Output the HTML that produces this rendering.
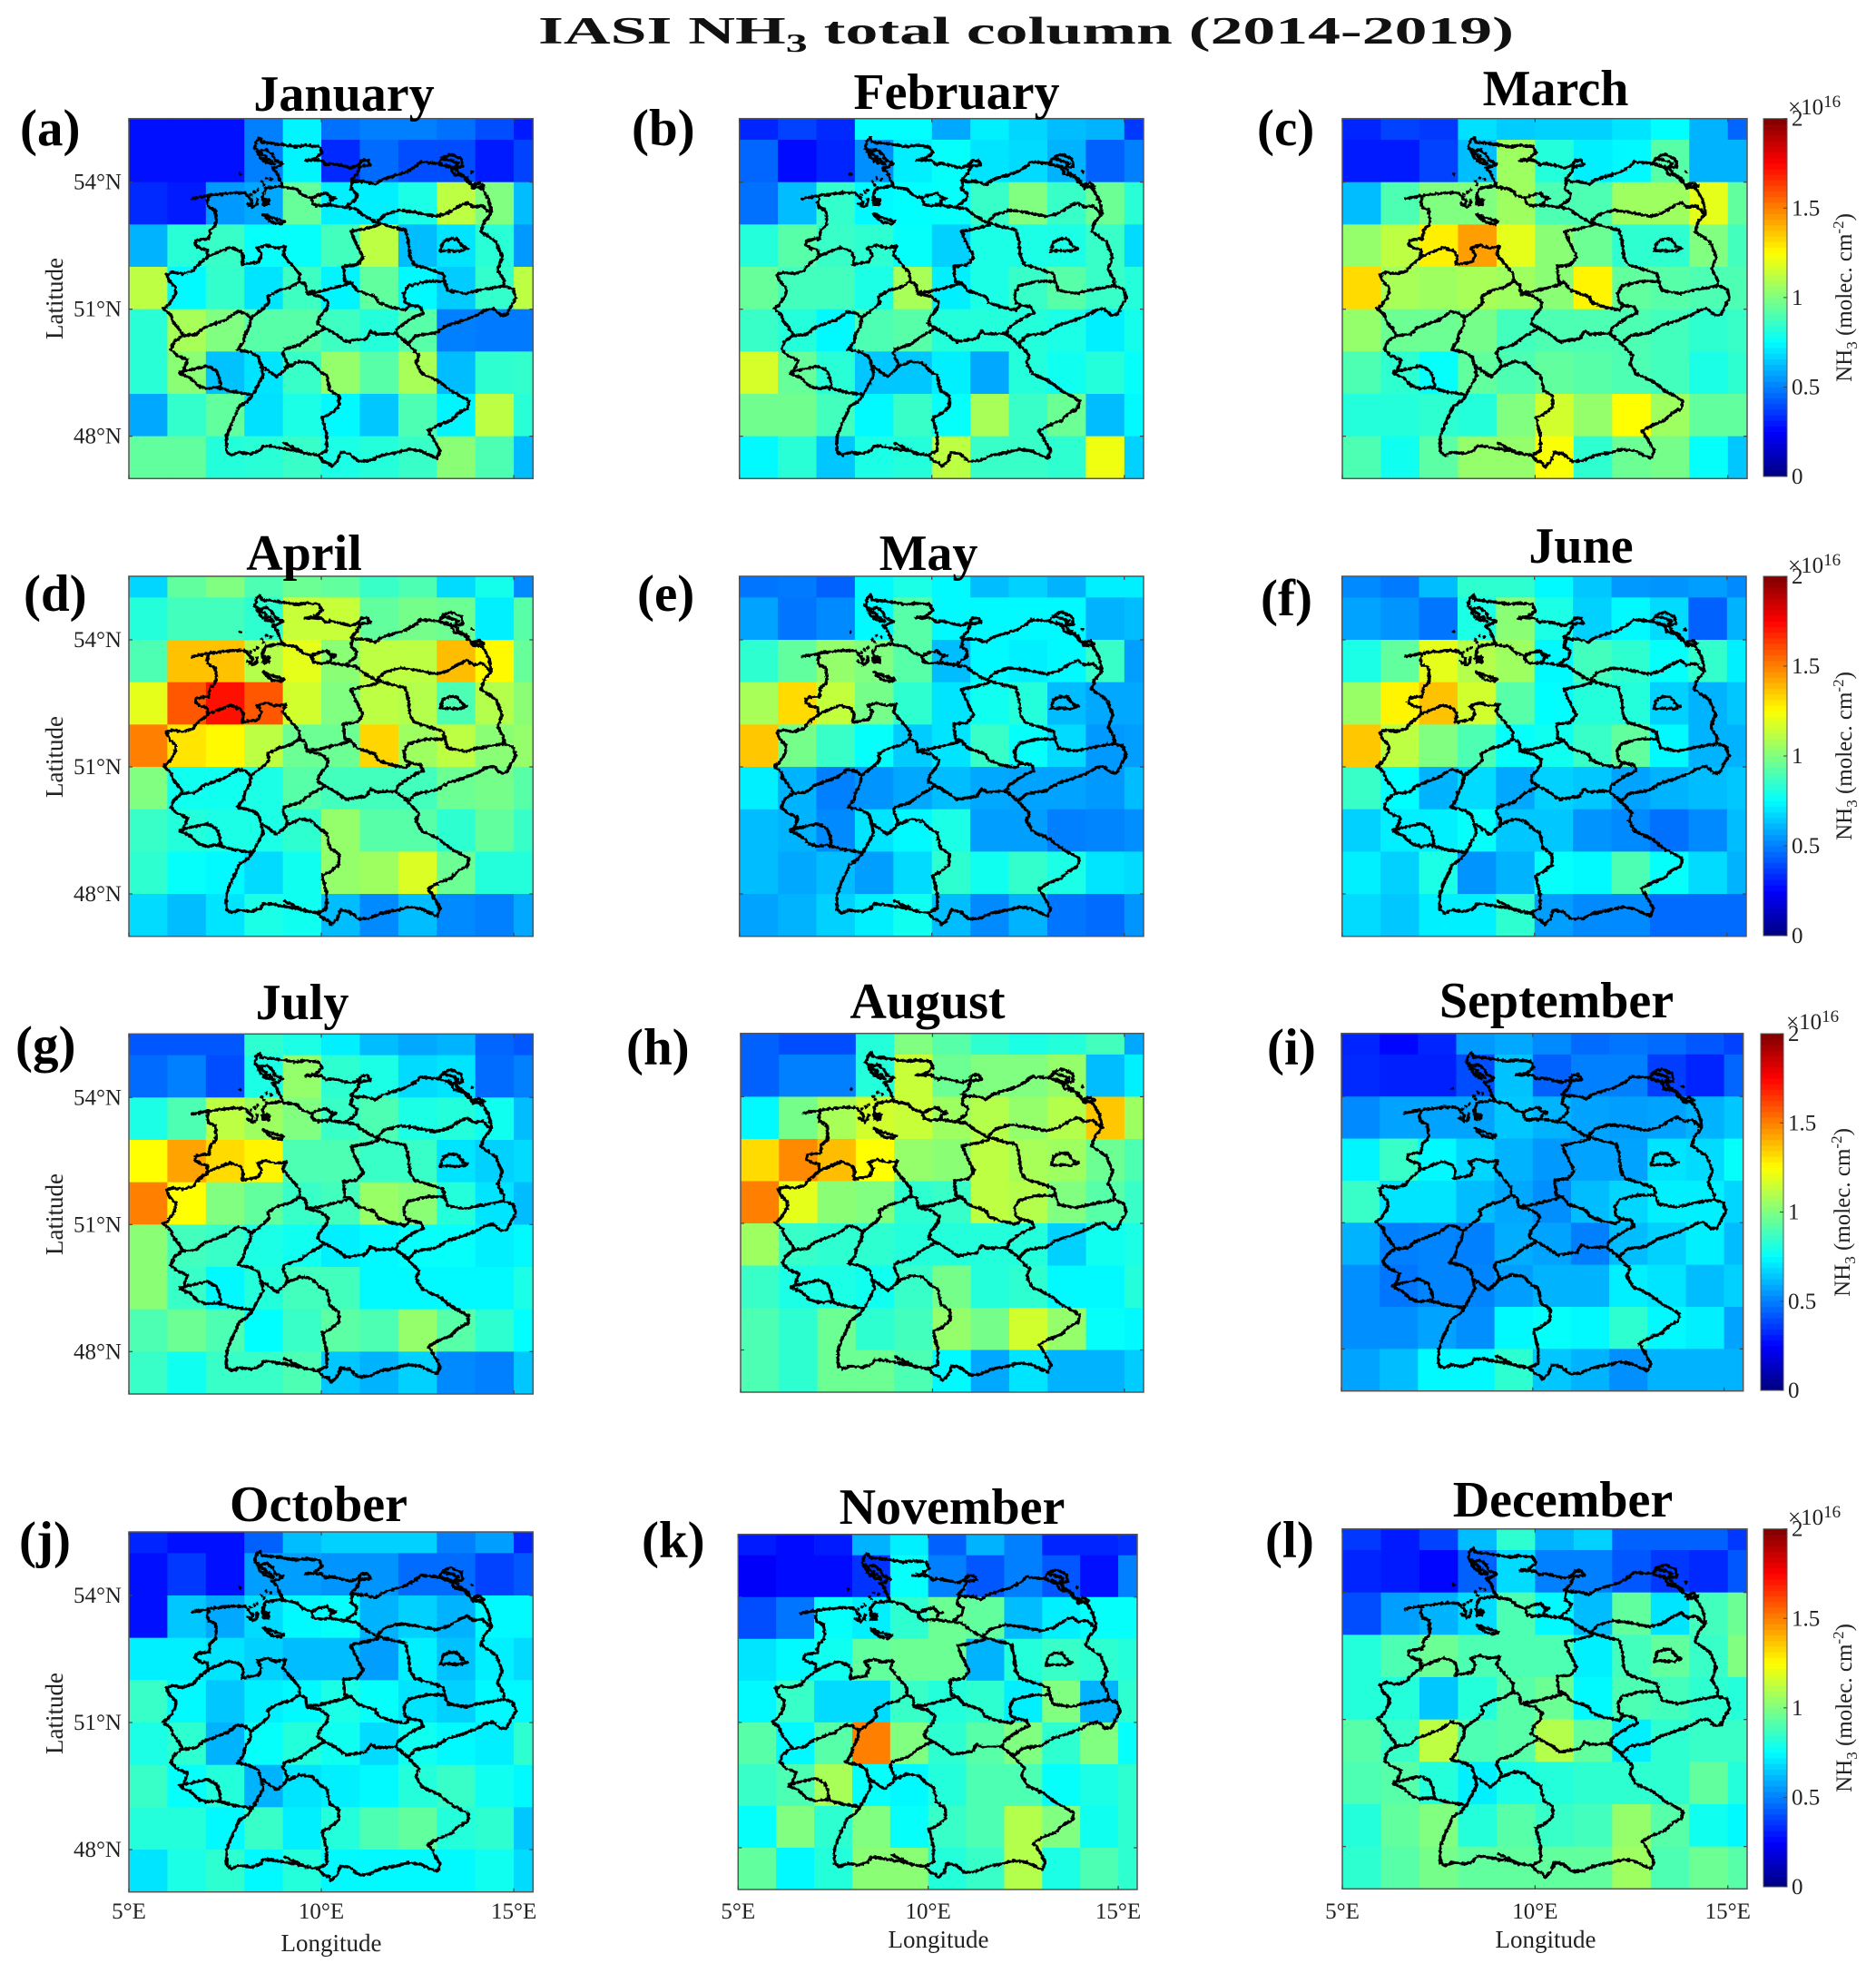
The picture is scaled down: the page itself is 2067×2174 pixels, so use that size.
<!DOCTYPE html>
<html lang="en">
<head>
<meta charset="utf-8">
<title>IASI NH3 total column (2014-2019)</title>
<style>
html,body{margin:0;padding:0;background:#fff}
svg{display:block}
text{font-family:"Liberation Serif",serif;fill:#111}
.main{font-weight:700;font-size:42px}
.ttl{font-weight:700;font-size:56px;text-anchor:middle;fill:#000}
.let{font-weight:700;font-size:57px;fill:#000}
.ax{font-size:27px;text-anchor:middle;fill:#222}
.tick{font-size:25px;fill:#222}
.cbt{font-size:25px;fill:#222}
</style>
</head>
<body>
<svg id="figure" xmlns="http://www.w3.org/2000/svg" width="2067" height="2174" viewBox="0 0 2067 2174">
<defs>
<filter id="rough" x="-3%" y="-3%" width="106%" height="106%" color-interpolation-filters="sRGB">
<feTurbulence type="fractalNoise" baseFrequency="0.32" numOctaves="2" seed="4"/>
<feDisplacementMap in="SourceGraphic" scale="4" xChannelSelector="R" yChannelSelector="G"/>
</filter>
<path id="germany" fill="none" stroke="#000" stroke-width="10" stroke-linejoin="round" stroke-linecap="round" d="
M245 297L280 290L310 285L380 277L420 278L435 295L445 305L440 320L428 313L445 325L458 318L460 300
M300 288L295 310L300 325L322 335L325 370L322 385L305 400L300 430L285 430L258 435L255 450L275 462L295 465L297 490L270 510L255 525L250 535L215 545L180 540L160 548L170 570L190 590L190 610L180 630L165 650L150 660L175 680L180 700L200 725L215 748L185 770L175 795L195 815L230 830L215 870L205 875L240 890L265 915L295 925L330 920L345 925L380 935L445 945L430 965L400 985L390 1010L375 1040L360 1080L358 1110L360 1135L375 1145L400 1135L440 1140L470 1130L480 1115L505 1115L530 1120L560 1125L590 1130L630 1140L660 1145L680 1165L695 1170L705 1183L725 1165L735 1135L765 1140L795 1165L830 1163L870 1145L925 1135L960 1125L1000 1130L1030 1145L1055 1155L1065 1130L1050 1105L1040 1085L1025 1065L1060 1045L1100 1030L1125 1005L1155 990L1160 965L1125 945L1105 935L1060 900L1005 875L985 840L995 815L975 795L945 765L920 745L960 775L985 750L1050 740L1090 715L1140 700L1190 680L1215 665L1240 660L1265 682L1285 680L1300 650L1315 625L1305 595L1275 585L1275 565L1255 530L1270 490L1250 440L1200 405L1210 375L1235 345L1225 300L1205 265L1170 250L1195 245L1210 255L1175 262L1155 230L1125 210L1115 195L1140 190L1135 165L1100 150L1075 160L1060 180L1000 175L985 190L950 210L900 225L870 235L850 250L820 240L790 240L770 235L790 215L800 190L835 185L825 170L805 170L795 185L770 195L730 185L700 180L690 185L670 170L620 170L650 165L675 145L665 125L620 120L590 125L545 118L500 112L475 110L470 95L458 105L452 130L470 140L490 135L510 150L520 170L545 180L530 190L510 195L525 210L535 235L545 255L520 258L490 262L480 280L478 300
M460 140L490 158L480 172L500 166L515 182L492 178L470 160Z
M1060 180L1085 190L1100 190L1110 215L1145 225L1155 240L1170 250
M1075 165L1100 170L1125 180L1105 200L1085 185
M480 298L500 300L498 316L480 316Z
M484 302L496 302L494 312L484 312Z
M480 348L510 360L550 372L540 380L510 375L490 360Z
M545 258L590 265L610 285L640 295L660 285L690 278L700 290L720 295L705 300L700 315L665 320L645 315L640 295
M660 320L700 318L750 325L785 330L810 350L840 368L860 378
M860 370L880 350L930 335L975 340L1050 355L1090 345L1130 320L1155 310L1175 325L1205 320L1230 345
M750 325L785 300L790 280L770 265L775 240
M865 378L905 390L950 400L960 440L965 490L980 515L1030 530L1075 545L1080 570L1020 570L960 585L945 610L950 640L970 650L1000 655L1010 675L985 685L960 700L925 725L920 745
M1080 570L1090 600L1150 610L1190 600L1275 585
M860 385L820 395L770 405L785 440L800 470L810 490L790 515L745 520L750 570L770 575L790 600L850 620L860 640L900 655L950 665L965 650
M770 575L740 585L660 605L640 605L625 610L620 580L600 570L600 545L570 510L545 480L555 455L520 460L490 450L460 460L475 480L465 505L410 515L415 490L405 470L370 458L340 470L295 488
M600 570L570 590L530 600L495 620L500 640L480 660L440 690L420 675L395 670L360 695L280 725L260 745L215 750
M440 690L435 720L420 745L415 770L395 795L440 805L465 820L475 860L480 880L445 945
M625 610L670 620L695 640L690 660L665 690L660 710L685 725L640 750L600 780L550 795L545 810L560 840L555 860L525 885L490 860L475 850
M555 855L590 840L600 835L640 840L670 870L690 880L700 930L730 950L730 985L700 1010L675 1020L690 1080L690 1130L660 1145
M685 725L720 745L755 770L780 765L820 760L835 735L855 745L920 742
M205 870L250 860L295 850L325 865L335 890L340 915L335 925
M1065 470L1075 440L1095 430L1120 430L1140 455L1155 462L1130 470L1090 468L1065 470Z
M550 1105L585 1122L620 1140
M403 215L404 216M475 240L476 241M482 250L483 251M505 232L506 233M490 228L491 229M450 275L451 276M460 268L461 269M438 282L439 283M1170 208L1171 209"/>
</defs>

<text class="main" x="593" y="48" textLength="1075" lengthAdjust="spacingAndGlyphs">IASI NH<tspan dy="9" font-size="28">3</tspan><tspan dy="-9"> total column (2014-2019)</tspan></text>

<g id="panels"></g>

<g>
<text class="ttl" x="379" y="122">January</text>
<text class="ttl" x="1054" y="120">February</text>
<text class="ttl" x="1714" y="116">March</text>
<text class="ttl" x="335" y="628">April</text>
<text class="ttl" x="1023" y="628">May</text>
<text class="ttl" x="1742" y="620">June</text>
<text class="ttl" x="333" y="1123">July</text>
<text class="ttl" x="1022" y="1122">August</text>
<text class="ttl" x="1715" y="1121">September</text>
<text class="ttl" x="351" y="1676">October</text>
<text class="ttl" x="1049" y="1679">November</text>
<text class="ttl" x="1722" y="1671">December</text>
</g>

<g>
<text class="let" x="22" y="160">(a)</text>
<text class="let" x="696" y="160">(b)</text>
<text class="let" x="1385" y="160">(c)</text>
<text class="let" x="26" y="673">(d)</text>
<text class="let" x="702" y="673">(e)</text>
<text class="let" x="1389" y="678">(f)</text>
<text class="let" x="17" y="1170">(g)</text>
<text class="let" x="690" y="1173">(h)</text>
<text class="let" x="1396" y="1173">(i)</text>
<text class="let" x="21" y="1716">(j)</text>
<text class="let" x="707" y="1716">(k)</text>
<text class="let" x="1394" y="1716">(l)</text>
</g>

<g>
<text class="ax" transform="translate(69,329) rotate(-90)">Latitude</text>
<text class="ax" transform="translate(69,834) rotate(-90)">Latitude</text>
<text class="ax" transform="translate(69,1338) rotate(-90)">Latitude</text>
<text class="ax" transform="translate(69,1888) rotate(-90)">Latitude</text>
<text class="ax" x="365" y="2150">Longitude</text>
<text class="ax" x="1034" y="2146">Longitude</text>
<text class="ax" x="1703" y="2146">Longitude</text>
</g>

<g>
<text class="cbt" transform="translate(2040,328) rotate(-90)" text-anchor="middle">NH<tspan dy="6" font-size="17">3</tspan><tspan dy="-6"> (molec. cm</tspan><tspan dy="-9" font-size="17">-2</tspan><tspan dy="9">)</tspan></text>
<text class="cbt" transform="translate(2040,833) rotate(-90)" text-anchor="middle">NH<tspan dy="6" font-size="17">3</tspan><tspan dy="-6"> (molec. cm</tspan><tspan dy="-9" font-size="17">-2</tspan><tspan dy="9">)</tspan></text>
<text class="cbt" transform="translate(2038,1336) rotate(-90)" text-anchor="middle">NH<tspan dy="6" font-size="17">3</tspan><tspan dy="-6"> (molec. cm</tspan><tspan dy="-9" font-size="17">-2</tspan><tspan dy="9">)</tspan></text>
<text class="cbt" transform="translate(2040,1882) rotate(-90)" text-anchor="middle">NH<tspan dy="6" font-size="17">3</tspan><tspan dy="-6"> (molec. cm</tspan><tspan dy="-9" font-size="17">-2</tspan><tspan dy="9">)</tspan></text>
<text class="tick" x="1970" y="126">×10<tspan dy="-8" font-size="19">16</tspan></text>
<text class="tick" x="1970" y="631">×10<tspan dy="-8" font-size="19">16</tspan></text>
<text class="tick" x="1968" y="1134">×10<tspan dy="-8" font-size="19">16</tspan></text>
<text class="tick" x="1970" y="1680">×10<tspan dy="-8" font-size="19">16</tspan></text>
</g>
</svg>

<script>
// Cell edges of the gridded product
const lonEdges = [5,6,7,8,9,10,11,12,13,14,15,15.5];
const latEdges = [55.5,55,54,53,52,51,50,49,48,47];
// Axis ticks
const lonTicks = [5,10,15];
const latTicks = [54,51,48];
const lonTickLabels = ["5°E","10°E","15°E"];
const latTickLabels = ["54°N","51°N","48°N"];
const cbarTicks = [0,0.5,1,1.5,2];
const cbarTickLabels = ["0","0.5","1","1.5","2"];
const cbarLevels = 64;
const cbarMax = 2;

// NH3 column (x10^16 molec/cm2); rows north to south, columns west to east
const january = [
[.28,.28,.28,.5,.73,.47,.5,.5,.47,.4,.3],
[.28,.28,.28,.5,.73,.33,.46,.4,.4,.3,.38],
[.33,.3,.55,.58,.95,.72,.72,.8,1.12,1,.62],
[.6,.83,.86,.76,.76,.88,1.12,.62,.7,.83,.55],
[1.12,.74,.85,.7,.87,.73,.94,.74,.65,.85,1.12],
[.83,1.08,1,.92,.92,.87,.82,.92,.5,.49,.49],
[.83,1.02,.63,.7,.86,1.04,.92,1.08,.62,.84,.85],
[.58,.85,.94,.69,.8,.74,.64,.9,.73,1.12,.83],
[.94,.94,.82,.83,.86,.8,.82,.86,1.02,.9,.62]];
const february = [
[.32,.38,.33,.75,.75,.58,.72,.67,.62,.6,.36],
[.45,.27,.32,.53,.72,.76,.7,.68,.6,.44,.5],
[.47,.62,.85,.74,.75,.76,.86,1,.86,.96,.83],
[.82,.92,.86,.84,.76,.66,.8,.8,.8,.86,.68],
[.95,.88,.88,.8,1.08,.72,.8,.86,.92,.86,.82],
[.86,.82,.74,.9,.92,.82,.82,.82,.8,.72,.79],
[1.17,.95,.83,.64,.64,.72,.58,.82,.78,.82,.76],
[.97,.97,.88,.74,.86,.76,1.08,.86,.96,.62,.74],
[.74,.83,.64,.8,.82,1.12,.86,.86,.84,1.22,.66]];
const march = [
[.32,.38,.36,.69,.65,.66,.66,.7,.75,.6,.45],
[.3,.3,.38,.62,1.06,.82,.72,.74,.92,.6,.6],
[.62,.9,1,1,1.06,.9,.9,1.06,1.06,1.2,.94],
[1.04,1.12,1.28,1.44,1.2,1.02,.96,.84,.84,1,.88],
[1.32,1.08,1.06,1.08,1.06,1.02,1.27,.94,.92,.9,.9],
[1.04,.96,.96,.98,.88,.9,.9,.9,.88,.84,.86],
[.9,.84,.76,.94,.9,.94,.92,.9,.88,.8,.84],
[.82,.82,.84,.82,1,1.16,1.04,1.25,1.06,.94,.94],
[.9,.78,.93,1.04,1.04,1.24,.84,.96,.98,.76,.64]];
const april = [
[.67,.94,1,.9,.96,.94,.86,.9,.68,.79,.52],
[.82,.88,.88,.84,1.14,1.14,.94,.98,.96,.72,.92],
[.9,1.37,1.37,1.1,1.2,1.02,1.12,1.12,1.38,1.26,.95],
[1.2,1.58,1.72,1.58,1.16,1,1.12,1.1,.9,1.1,1.02],
[1.5,1.3,1.26,1.12,.96,.96,1.33,1.06,1.12,1.02,1.04],
[1,.78,.78,.8,.92,.88,.88,.88,.96,.98,.92],
[.86,.82,.8,.8,.84,1.04,.92,.92,.84,.94,.86],
[.84,.76,.74,.68,.78,1.04,1.06,1.18,.96,.82,.82],
[.68,.62,.7,.8,.78,.62,.52,.62,.52,.5,.58]];
const may = [
[.48,.49,.44,.74,.8,.74,.62,.66,.6,.72,.72],
[.57,.48,.52,.74,.92,.74,.74,.74,.74,.6,.62],
[.84,.94,1.04,1,.92,.62,.74,.72,.74,.86,.56],
[1.08,1.32,1.13,.98,.84,.7,.78,.82,.62,.58,.58],
[1.36,.98,.86,.76,.65,.7,.86,.76,.68,.55,.56],
[.72,.6,.5,.54,.58,.62,.58,.57,.57,.55,.62],
[.62,.6,.52,.7,.74,.8,.56,.56,.5,.51,.53],
[.62,.58,.62,.56,.68,.84,.78,.85,.8,.7,.68],
[.57,.6,.66,.72,.78,.62,.52,.6,.48,.46,.54]];
const june = [
[.52,.49,.62,.84,.84,.74,.64,.55,.54,.56,.52],
[.57,.54,.48,.8,1.02,.8,.66,.74,.68,.44,.6],
[.8,.94,1.2,1.1,1.06,.74,.88,.84,.76,.85,.72],
[1.05,1.27,1.37,1.16,.92,.75,.82,.82,.66,.6,.64],
[1.36,1.12,1,.9,.76,.78,.86,.94,.74,.6,.6],
[.86,.75,.6,.68,.58,.66,.64,.57,.6,.62,.64],
[.66,.72,.72,.76,.64,.64,.54,.52,.47,.52,.62],
[.72,.66,.8,.54,.6,.76,.74,.9,.76,.68,.6],
[.68,.64,.72,.72,.84,.56,.52,.52,.46,.46,.46]];
const july = [
[.42,.42,.42,.84,.8,.72,.62,.58,.6,.45,.42],
[.46,.5,.4,.8,1.04,.84,.8,.68,.7,.46,.5],
[.8,.9,1.12,1.06,1,.86,.9,.8,.82,.78,.62],
[1.25,1.43,1.32,1.27,.9,.9,.86,.86,.7,.66,.68],
[1.5,1.25,1,.94,.86,.88,1.05,1.02,.82,.7,.62],
[1.02,.88,.86,.8,.78,.72,.74,.76,.76,.72,.74],
[1.02,.86,.74,.82,.88,.88,.74,.74,.74,.74,.8],
[.9,.96,.9,.75,.86,.93,.9,1.04,.92,.84,.75],
[.86,.78,.86,.86,.9,.64,.6,.66,.52,.5,.64]];
const august = [
[.44,.4,.4,.82,1,.92,.84,.8,.82,.88,.58],
[.44,.5,.5,.82,1.14,.96,1,1,1.04,.62,.72],
[.74,.98,1.08,1.16,1.14,1.06,1.1,1.04,1.1,1.36,1.06],
[1.32,1.48,1.38,1.25,1.04,1.02,1.12,1.08,1.06,.96,.9],
[1.5,1.2,1.02,1,.84,.86,1.12,1.1,1,.92,.86],
[1.06,.86,.84,.84,.82,.82,.82,.82,.66,.78,.8],
[.86,.8,.8,.78,.86,.98,.82,.84,.74,.74,.82],
[.9,.84,.96,.84,.88,1.04,.98,1.16,1.04,.76,.74],
[.9,.84,.96,.96,.9,.74,.58,.7,.6,.6,.65]];
const september = [
[.32,.26,.32,.55,.58,.52,.46,.48,.46,.42,.38],
[.33,.31,.31,.4,.63,.44,.5,.5,.37,.32,.45],
[.52,.57,.57,.57,.64,.6,.57,.56,.57,.6,.64],
[.73,.86,.74,.67,.6,.55,.57,.57,.7,.68,.76],
[.86,.7,.7,.62,.58,.53,.62,.67,.72,.72,.67],
[.6,.5,.51,.5,.59,.57,.5,.62,.66,.72,.62],
[.53,.48,.51,.51,.56,.6,.6,.72,.7,.62,.66],
[.53,.53,.57,.53,.74,.76,.74,.84,.74,.72,.57],
[.57,.62,.74,.74,.84,.64,.6,.53,.6,.6,.6]];
const october = [
[.32,.28,.28,.44,.62,.66,.66,.66,.5,.56,.32],
[.28,.36,.28,.56,.56,.54,.54,.46,.46,.38,.42],
[.28,.64,.58,.68,.74,.76,.6,.66,.6,.74,.74],
[.72,.72,.7,.66,.62,.62,.56,.72,.63,.72,.68],
[.86,.74,.64,.72,.74,.8,.76,.7,.66,.74,.74],
[.8,.84,.6,.76,.82,.78,.68,.78,.74,.72,.84],
[.86,.76,.82,.6,.7,.72,.74,.82,.86,.78,.74],
[.82,.82,.74,.86,.72,.82,.9,.94,.82,.84,.64],
[.7,.8,.84,.74,.82,.74,.74,.74,.74,.78,.68]];
const november = [
[.3,.27,.3,.6,.72,.44,.6,.5,.32,.32,.34],
[.24,.27,.27,.35,.76,.5,.42,.5,.42,.28,.5],
[.4,.48,.76,.72,.84,.96,.94,.62,.72,.76,.76],
[.7,.74,.78,.94,.96,.96,.6,.82,.86,.84,.82],
[.74,.86,.68,.68,.86,.82,.84,.72,1,.6,.84],
[.92,.74,.92,1.5,1,.84,.92,1,.84,1,.76],
[.86,.9,1.08,.76,.74,.82,.9,.9,.76,.8,.84],
[.76,1,.84,1,.76,.86,.9,1.1,1,.78,.84],
[.94,.74,.82,1.02,1.02,.82,.86,1.1,.8,.9,.84]];
const december = [
[.36,.3,.38,.62,.84,.6,.66,.44,.44,.44,.36],
[.32,.3,.26,.44,.68,.5,.5,.42,.36,.33,.42],
[.4,.56,.6,.68,.9,.74,.62,.94,.7,.88,.96],
[.82,.9,.96,.9,.9,.9,.72,.88,.94,.86,1],
[.82,.82,.64,.82,.92,.96,.74,.9,.88,.84,.82],
[.92,.86,1.12,.9,.92,1.1,.94,.72,.84,.86,.86],
[.9,.92,.82,.72,.8,.82,.84,.84,.84,.94,.82],
[.82,.94,1,.82,.92,.86,.88,1.04,.92,.78,.74],
[.84,.92,.98,.94,.94,.94,.94,1.06,.9,.96,.92]];

const NS = "http://www.w3.org/2000/svg";
const root = document.getElementById("panels");

function jet(v){
  const t = Math.max(0, Math.min(1, v / cbarMax));
  const c = d => Math.round(255 * Math.max(0, Math.min(1, 1.5 - Math.abs(4 * t - d))));
  return "rgb(" + c(3) + "," + c(2) + "," + c(1) + ")";
}
function node(parent, tag, attrs){
  const el = document.createElementNS(NS, tag);
  for (const k in attrs) el.setAttribute(k, attrs[k]);
  parent.appendChild(el);
  return el;
}

function drawPanel(key, values, box, opts){
  const xScale = lon => box.x0 + (lon - 5) / 10.5 * (box.x1 - box.x0);
  const yScale = lat => box.y0 + (55.5 - lat) / 8.5 * (box.y1 - box.y0);
  const g = node(root, "g", {});
  
  

  values.forEach((row, r) => row.forEach((val, c) => {
    const x = xScale(lonEdges[c]), y = yScale(latEdges[r]);
    const w = xScale(lonEdges[c + 1]) - x, h = yScale(latEdges[r + 1]) - y;
    const cell = node(g, "rect", {x: x, y: y, width: w + 0.4, height: h + 0.4, fill: jet(val)});
    
    
  }));

  const rough = node(g, "g", {filter: "url(#rough)"});
  
  
  const sx = (box.x1 - box.x0) / 1336, sy = (box.y1 - box.y0) / 1190;
  node(rough, "use", {href: "#germany", transform: "translate(" + box.x0 + "," + box.y0 + ") scale(" + sx + "," + sy + ") translate(-36,-32)"});

  const frame = node(g, "rect", {x: box.x0, y: box.y0, width: box.x1 - box.x0, height: box.y1 - box.y0, fill: "none", stroke: "#555", "stroke-width": 1.5});
  
  

  lonTicks.forEach((lon, i) => {
    const x = xScale(lon);
    const t1 = node(g, "line", {x1: x, x2: x, y1: box.y0, y2: box.y0 + 4, stroke: "#444", "stroke-width": 1.2});
    
    
    const t2 = node(g, "line", {x1: x, x2: x, y1: box.y1, y2: box.y1 - 4, stroke: "#444", "stroke-width": 1.2});
    
    
    if (opts.xLabels) {
      const lab = node(g, "text", {x: x, y: 2114, "text-anchor": "middle", class: "tick"});
      
      
      lab.textContent = lonTickLabels[i];
    }
  });
  latTicks.forEach((lat, i) => {
    const y = yScale(lat);
    const t1 = node(g, "line", {x1: box.x0, x2: box.x0 + 4, y1: y, y2: y, stroke: "#444", "stroke-width": 1.2});
    
    
    const t2 = node(g, "line", {x1: box.x1, x2: box.x1 - 4, y1: y, y2: y, stroke: "#444", "stroke-width": 1.2});
    
    
    if (opts.yLabels) {
      const lab = node(g, "text", {x: 134, y: y + 8, "text-anchor": "end", class: "tick"});
      
      
      lab.textContent = latTickLabels[i];
    }
  });
}

function drawColorbar(key, box){
  const yScale = v => box.y1 - v / cbarMax * (box.y1 - box.y0);
  const g = node(root, "g", {});
  
  
  for (let i = 0; i < cbarLevels; i++) {
    const lo = i / cbarLevels * cbarMax, hi = (i + 1) / cbarLevels * cbarMax;
    const s = node(g, "rect", {x: box.x0, y: yScale(hi), width: box.x1 - box.x0, height: yScale(lo) - yScale(hi) + 0.4, fill: jet((lo + hi) / 2)});
    
    
  }
  const f = node(g, "rect", {x: box.x0, y: box.y0, width: box.x1 - box.x0, height: box.y1 - box.y0, fill: "none", stroke: "#555", "stroke-width": 1});
  
  
  cbarTicks.forEach((v, i) => {
    const y = yScale(v);
    const t = node(g, "line", {x1: box.x1 - 4, x2: box.x1, y1: y, y2: y, stroke: "#444", "stroke-width": 1});
    
    
    const lab = node(g, "text", {x: box.x1 + 5, y: y + 8, class: "cbt"});
    
    
    lab.textContent = cbarTickLabels[i];
  });
}

drawPanel("january", january, {x0:142,x1:587.3,y0:130.7,y1:527.3}, {yLabels:true});
drawPanel("february", february, {x0:814.7,x1:1260,y0:130.7,y1:527.3}, {});
drawPanel("march", march, {x0:1479,x1:1925,y0:130.7,y1:527.3}, {});
drawPanel("april", april, {x0:142,x1:587.3,y0:635,y1:1031.7}, {yLabels:true});
drawPanel("may", may, {x0:814.7,x1:1260,y0:635,y1:1031.7}, {});
drawPanel("june", june, {x0:1478.7,x1:1924,y0:635,y1:1031.7}, {});
drawPanel("july", july, {x0:142,x1:587.3,y0:1139.3,y1:1536}, {yLabels:true});
drawPanel("august", august, {x0:816,x1:1260,y0:1138.7,y1:1534}, {});
drawPanel("september", september, {x0:1478,x1:1920.7,y0:1138.7,y1:1532.7}, {});
drawPanel("october", october, {x0:142,x1:587.3,y0:1688,y1:2084.7}, {yLabels:true, xLabels:true});
drawPanel("november", november, {x0:813.3,x1:1253,y0:1690.7,y1:2082}, {xLabels:true});
drawPanel("december", december, {x0:1479,x1:1925,y0:1684.7,y1:2081.3}, {xLabels:true});

drawColorbar("march", {x0:1943,x1:1969,y0:130.7,y1:525});
drawColorbar("june", {x0:1943,x1:1969,y0:635,y1:1031});
drawColorbar("september", {x0:1940,x1:1965,y0:1139,y1:1532});
drawColorbar("december", {x0:1943,x1:1969,y0:1684.7,y1:2079});
</script>
</body>
</html>
